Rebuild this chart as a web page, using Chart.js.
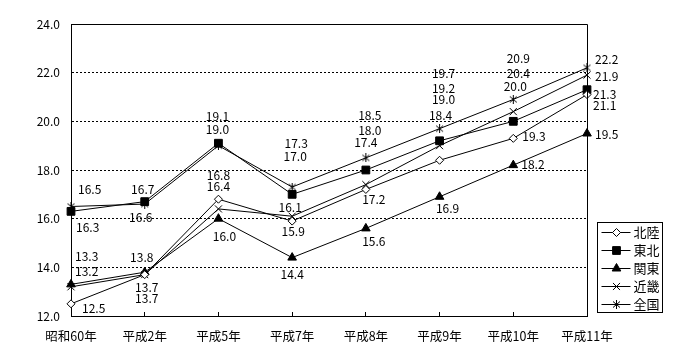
<!DOCTYPE html>
<html>
<head>
<meta charset="utf-8">
<script src="https://cdn.jsdelivr.net/npm/chart.js@4.4.1/dist/chart.umd.min.js"></script>
<style>
body { margin: 0; background: #fff; }
</style>
</head>
<body>
<canvas id="chart" width="700" height="360"></canvas>
<script>
const years = ['昭和60年', '平成2年', '平成5年', '平成7年', '平成8年', '平成9年', '平成10年', '平成11年'];
const hokuriku = [12.5, 13.7, 16.8, 15.9, 17.2, 18.4, 19.3, 21.1];
const tohoku = [16.3, 16.7, 19.1, 17.0, 18.0, 19.2, 20.0, 21.3];
const kanto = [13.3, 13.8, 16.0, 14.4, 15.6, 16.9, 18.2, 19.5];
const kinki = [13.2, 13.7, 16.4, 16.1, 17.4, 19.0, 20.4, 21.9];
const zenkoku = [16.5, 16.6, 19.0, 17.3, 18.5, 19.7, 20.9, 22.2];
const yMin = 12, yMax = 24, yStep = 2;

const fam = "'Noto Sans CJK JP', sans-serif";

// ラベルの位置 (点からのずれ, 'l' は左寄せ)
const labelPos = {
    '北陸': [[11, 5, 'l'], [2, 24], [0, -24], [1, 10], [8, 10], [1, -45], [9, -2, 'l'], [6, 11, 'l']],
    '東北': [[5, 16, 'l'], [-2, -12], [-1, -27], [3, -38], [4, -40], [4, -52], [2, -35], [6, 5, 'l']],
    '関東': [[4, -28, 'l'], [-3, -15], [6, 18], [0, 17], [8, 13], [8, 12], [8, -1, 'l'], [8, 1, 'l']],
    '近畿': [[4, -15, 'l'], [2, 13], [0, -22], [-2, -9], [0, -42], [4, -46], [5, -38], [8, 1, 'l']],
    '全国': [[7, -17, 'l'], [-4, 13], [-1, -16], [4, -44], [4, -42], [4, -55], [5, -41], [8, -8, 'l']]
};

function makeStar() {
    const c = document.createElement('canvas');
    c.width = 9;
    c.height = 9;
    const g = c.getContext('2d');
    g.strokeStyle = '#000';
    g.lineWidth = 1;
    g.beginPath();
    g.moveTo(4.5, 0);
    g.lineTo(4.5, 9);
    g.moveTo(1, 1.5);
    g.lineTo(8, 7.5);
    g.moveTo(8, 1.5);
    g.lineTo(1, 7.5);
    g.stroke();
    return c;
}

function series(label, data, style, radius, fill) {
    return {
        label: label,
        data: data,
        borderColor: '#000',
        borderWidth: 1,
        tension: 0,
        fill: false,
        clip: false,
        pointStyle: style,
        pointRadius: radius,
        pointBackgroundColor: fill,
        pointBorderColor: '#000',
        pointBorderWidth: 1
    };
}

const decor = {
    id: 'decor',
    afterDraw(chart) {
        const ctx = chart.ctx;
        const a = chart.chartArea;
        ctx.save();
        ctx.strokeStyle = '#000';
        ctx.lineWidth = 1;
        ctx.setLineDash([]);
        ctx.beginPath();
        ctx.moveTo(a.left, Math.round(a.top) + 0.5);
        ctx.lineTo(Math.round(a.right) + 0.5, Math.round(a.top) + 0.5);
        ctx.lineTo(Math.round(a.right) + 0.5, a.bottom);
        ctx.stroke();

        // 数値ラベル
        ctx.font = '12px ' + fam;
        ctx.fillStyle = '#000';
        ctx.textBaseline = 'middle';
        chart.data.datasets.forEach((ds, di) => {
            const meta = chart.getDatasetMeta(di);
            meta.data.forEach((pt, i) => {
                const p = labelPos[ds.label][i];
                ctx.textAlign = p[2] === 'l' ? 'left' : 'center';
                ctx.fillText(ds.data[i].toFixed(1), pt.x + p[0], pt.y + p[1]);
            });
        });

        // 凡例
        const bx = Math.round(a.right) + 10.5;
        const by = Math.round(a.bottom) - 93.5;
        ctx.strokeRect(bx, by, 65, 90);
        ctx.font = '13px ' + fam;
        ctx.textAlign = 'left';
        chart.data.datasets.forEach((ds, di) => {
            const y = by + 10 + di * 18;
            ctx.beginPath();
            ctx.moveTo(bx + 4, y);
            ctx.lineTo(bx + 33, y);
            ctx.stroke();
            ctx.fillStyle = ds.pointBackgroundColor;
            Chart.helpers.drawPoint(ctx, {
                pointStyle: ds.pointStyle,
                radius: ds.pointRadius,
                rotation: 0,
                borderWidth: 1
            }, bx + 19, y);
            ctx.fillStyle = '#000';
            ctx.fillText(ds.label, bx + 36, y);
        });
        ctx.restore();
    }
};

const chart = new Chart(document.getElementById('chart').getContext('2d'), {
    type: 'line',
    data: {
        labels: years,
        datasets: [
            series('北陸', hokuriku, 'rectRot', 4, '#fff'),
            series('東北', tohoku, 'rect', 5.5, '#000'),
            series('関東', kanto, 'triangle', 5, '#000'),
            series('近畿', kinki, 'crossRot', 5, '#000'),
            series('全国', zenkoku, makeStar(), 4.5, '#000')
        ]
    },
    options: {
        responsive: false,
        animation: false,
        devicePixelRatio: 1,
        layout: { padding: { left: 0, top: 24, right: 113, bottom: 0 } },
        plugins: {
            legend: { display: false },
            tooltip: { enabled: false }
        },
        scales: {
            x: {
                type: 'category',
                offset: false,
                grid: { display: true, drawOnChartArea: false, drawTicks: true, tickLength: -4, color: '#000' },
                border: { display: true, color: '#000', width: 1 },
                ticks: { color: '#000', font: { family: fam, size: 12.5 }, padding: 17, maxRotation: 0, autoSkip: false },
                afterFit(s) { s.height = 44; }
            },
            y: {
                min: yMin,
                max: yMax,
                ticks: {
                    stepSize: yStep,
                    color: '#000',
                    font: { family: fam, size: 12 },
                    padding: 11,
                    callback: v => v.toFixed(1)
                },
                grid: { color: '#000', lineWidth: 1, drawTicks: false },
                border: { display: true, color: '#000', width: 1, dash: [2, 2] },
                afterFit(s) { s.width = 71; }
            }
        }
    },
    plugins: [decor]
});
</script>
</body>
</html>
